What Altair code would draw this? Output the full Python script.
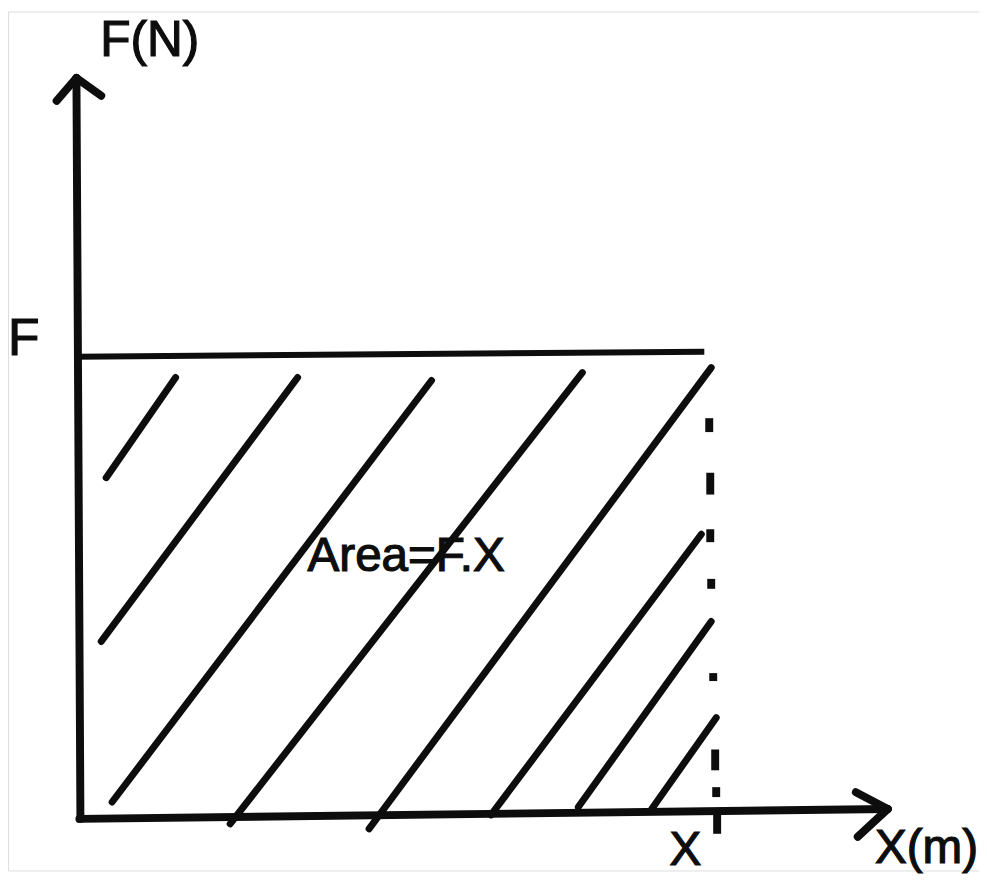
import altair as alt
import pandas as pd

# ---- data (x in units of X/10, y in units of F/10) ----
X_DOMAIN = [-1.1285, 14.216]
Y_DOMAIN = [-1.118, 17.505]

# axes with arrow heads: start/end points
axis_x1 = [-0.047, -0.360, 0.345, 0.000, 12.270, 12.300]
axis_y1 = [16.065, 15.570, 15.680, 0.000, 0.580, -0.387]
axis_x2 = [0.016, -0.047, -0.047, 12.774, 12.774, 12.774]
axis_y2 = [0.000, 16.065, 16.065, 0.215, 0.215, 0.215]

# horizontal line at F
fline_x1 = [-0.047]
fline_y1 = [10.02]
fline_x2 = [9.875]
fline_y2 = [10.13]

# hatch lines (lower-left end -> upper-right end)
hatch_x1 = [0.423, 0.345, 0.517, 2.382, 4.577, 6.505, 7.884, 9.044]
hatch_y1 = [7.398, 3.849, 0.366, -0.108, -0.215, 0.086, 0.258, 0.215]
hatch_x2 = [1.520, 3.448, 5.564, 7.947, 9.984, 9.828, 9.984, 10.063]
hatch_y2 = [9.570, 9.570, 9.505, 9.677, 9.785, 6.172, 4.280, 2.194]

# dashed vertical line at X (dash top/bottom), plus tick below axis
dash_x = [9.953, 9.969, 9.969, 9.984, 10.016, 10.047, 10.063, 10.078]
dash_top = [8.688, 7.505, 6.280, 5.204, 3.161, 1.505, 0.688, 0.086]
dash_bot = [8.387, 7.032, 6.000, 4.989, 2.989, 1.054, 0.473, -0.323]

# labels
label_text = ["F(N)", "F", "Area=F.X", "X", "X(m)"]
label_x = [0.329, -1.1285, 3.605, 9.326, 12.571]
label_y = [16.538, 10.065, 5.376, -0.99, -0.946]
label_size = [50, 52, 48, 48, 48]

INK = "#0d0d0d"

xs = alt.Scale(domain=X_DOMAIN, zero=False, nice=False, padding=0)
ys = alt.Scale(domain=Y_DOMAIN, zero=False, nice=False, padding=0)


def seg_layer(x1, y1, x2, y2, width, cap="round"):
    df = pd.DataFrame({"x": x1, "y": y1, "x2": x2, "y2": y2})
    return alt.Chart(df).mark_rule(
        color=INK, strokeWidth=width, strokeCap=cap
    ).encode(
        x=alt.X("x:Q", scale=xs, axis=None),
        y=alt.Y("y:Q", scale=ys, axis=None),
        x2="x2:Q",
        y2="y2:Q",
    )


axes = seg_layer(axis_x1, axis_y1, axis_x2, axis_y2, 8)
fline = seg_layer(fline_x1, fline_y1, fline_x2, fline_y2, 6, cap="butt")
hatch = seg_layer(hatch_x1, hatch_y1, hatch_x2, hatch_y2, 7)
dashes = seg_layer(dash_x, dash_top, dash_x, dash_bot, 8, cap="butt")

labels_df = pd.DataFrame(
    {"t": label_text, "x": label_x, "y": label_y, "s": label_size}
)
labels = alt.Chart(labels_df).mark_text(
    align="left", baseline="alphabetic", font="Liberation Sans", color=INK,
    stroke=INK, strokeWidth=1.2
).encode(
    x=alt.X("x:Q", scale=xs, axis=None),
    y=alt.Y("y:Q", scale=ys, axis=None),
    text="t:N",
    size=alt.Size("s:Q", scale=None, legend=None),
)

chart = (
    alt.layer(fline, hatch, dashes, axes, labels)
    .properties(width=979, height=866, padding=0,
                autosize=alt.AutoSizeParams(type="none"))
    .configure_view(strokeWidth=0, stroke="transparent")
    .configure(background="white")
)

chart.save("out.html", embed_options={"renderer": "svg", "actions": False})
